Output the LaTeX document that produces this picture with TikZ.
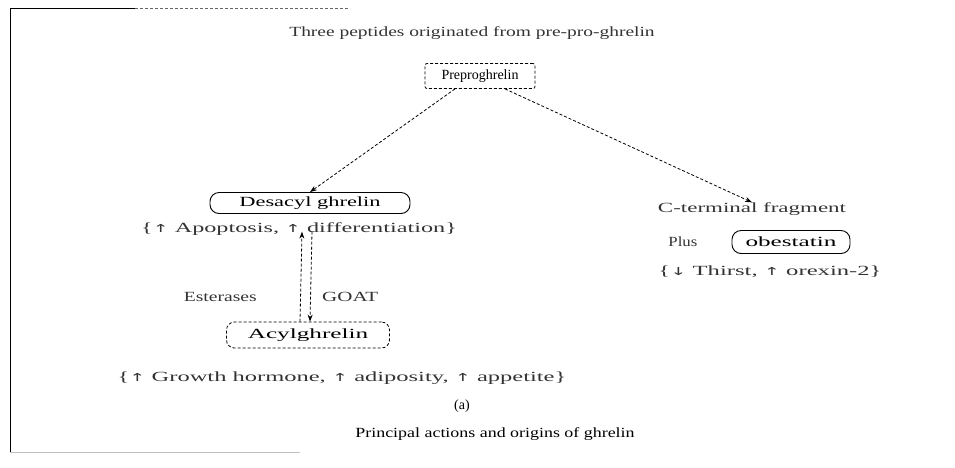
\documentclass[tikz,border=0pt]{standalone}
\usepackage{fontspec}
\usepackage{graphicx}
\setmainfont{Liberation Serif}
\newfontfamily\symfont{DejaVu Sans}
\usetikzlibrary{arrows.meta}
\newcommand{\up}{{\symfont\fontsize{11}{12}\selectfont↑}}
\newcommand{\down}{{\symfont\fontsize{11}{12}\selectfont↓}}
% horizontally stretched text
\newcommand{\wide}[2]{\scalebox{#1}[1]{#2}}
\begin{document}
\begin{tikzpicture}[x=1pt,y=-1pt,
  every node/.style={font=\fontsize{14}{16}\selectfont, inner sep=0pt},
  txt/.style={text=black!80},
  dbox/.style={draw, densely dashed, line width=0.8pt, rounded corners=2pt},
  rbox/.style={draw, line width=0.9pt, rounded corners=9pt},
  link/.style={densely dashed, line width=0.8pt, -{Stealth[length=7pt,width=5pt]}},
  frame/.style={line width=1pt}]
\useasboundingbox (0,0) rectangle (955,467);
% outer frame
\draw[frame] (10,452) -- (10,8) -- (135,8);
\draw[frame, densely dashed, black!60] (135,8) -- (350,8);
\draw[line width=0.6pt, black!25] (10,452) -- (300,452);

% title
\node[txt] (title) at (472,33) {\wide{1.39}{Three peptides originated from pre-pro-ghrelin}};

% nodes
\node[dbox, minimum width=110pt, minimum height=25pt] (pre) at (480,76) {Preproghrelin};
\node[rbox, minimum width=200pt, minimum height=21pt] (des) at (310,203) {\wide{1.6}{Desacyl ghrelin}};
\node[txt] (desfx) at (299,229) {\wide{1.73}{\{\up\ Apoptosis, \up\ differentiation\}}};
\node[dbox, rounded corners=8pt, minimum width=163pt, minimum height=26pt] (acyl) at (308,335) {\wide{1.8}{Acylghrelin}};
\node[txt] (acylfx) at (342,378) {\wide{1.75}{\{\up\ Growth hormone, \up\ adiposity, \up\ appetite\}}};

\node[txt] (cterm) at (752,209) {\wide{1.64}{C-terminal fragment}};
\node[rbox, minimum width=118pt, minimum height=23pt] (obe) at (791,242) {\wide{1.8}{obestatin}};
\node[txt, anchor=east] (plus) at ([xshift=-34pt]obe.west) {\wide{1.2}{Plus}};
\node[txt] (obefx) at (770,272) {\wide{1.76}{\{\down\ Thirst, \up\ orexin-2\}}};

% caption
\node (sub) at (462,406) {(a)};
\node (cap) at (495,434) {\wide{1.28}{Principal actions and origins of ghrelin}};

% cleavage connectors
\draw[link] ([xshift=-25pt]pre.south) -- (des.north);
\draw[link] ([xshift=25pt]pre.south) -- (cterm.north);

% interconversion between the two ghrelin forms
\coordinate (dl) at ([xshift=-8pt]des.south |- desfx.south);
\coordinate (dr) at ([xshift=2pt]des.south |- desfx.south);
\draw[link] ([xshift=-8pt]acyl.north) -- ([yshift=4pt]dl);
\draw[link] ([yshift=4pt]dr) -- ([xshift=2pt]acyl.north);
\node[txt, anchor=east] (est) at (257,297) {\wide{1.4}{Esterases}};
\node[txt, anchor=west] (goat) at (322,297) {\wide{1.5}{GOAT}};
\end{tikzpicture}
\end{document}
